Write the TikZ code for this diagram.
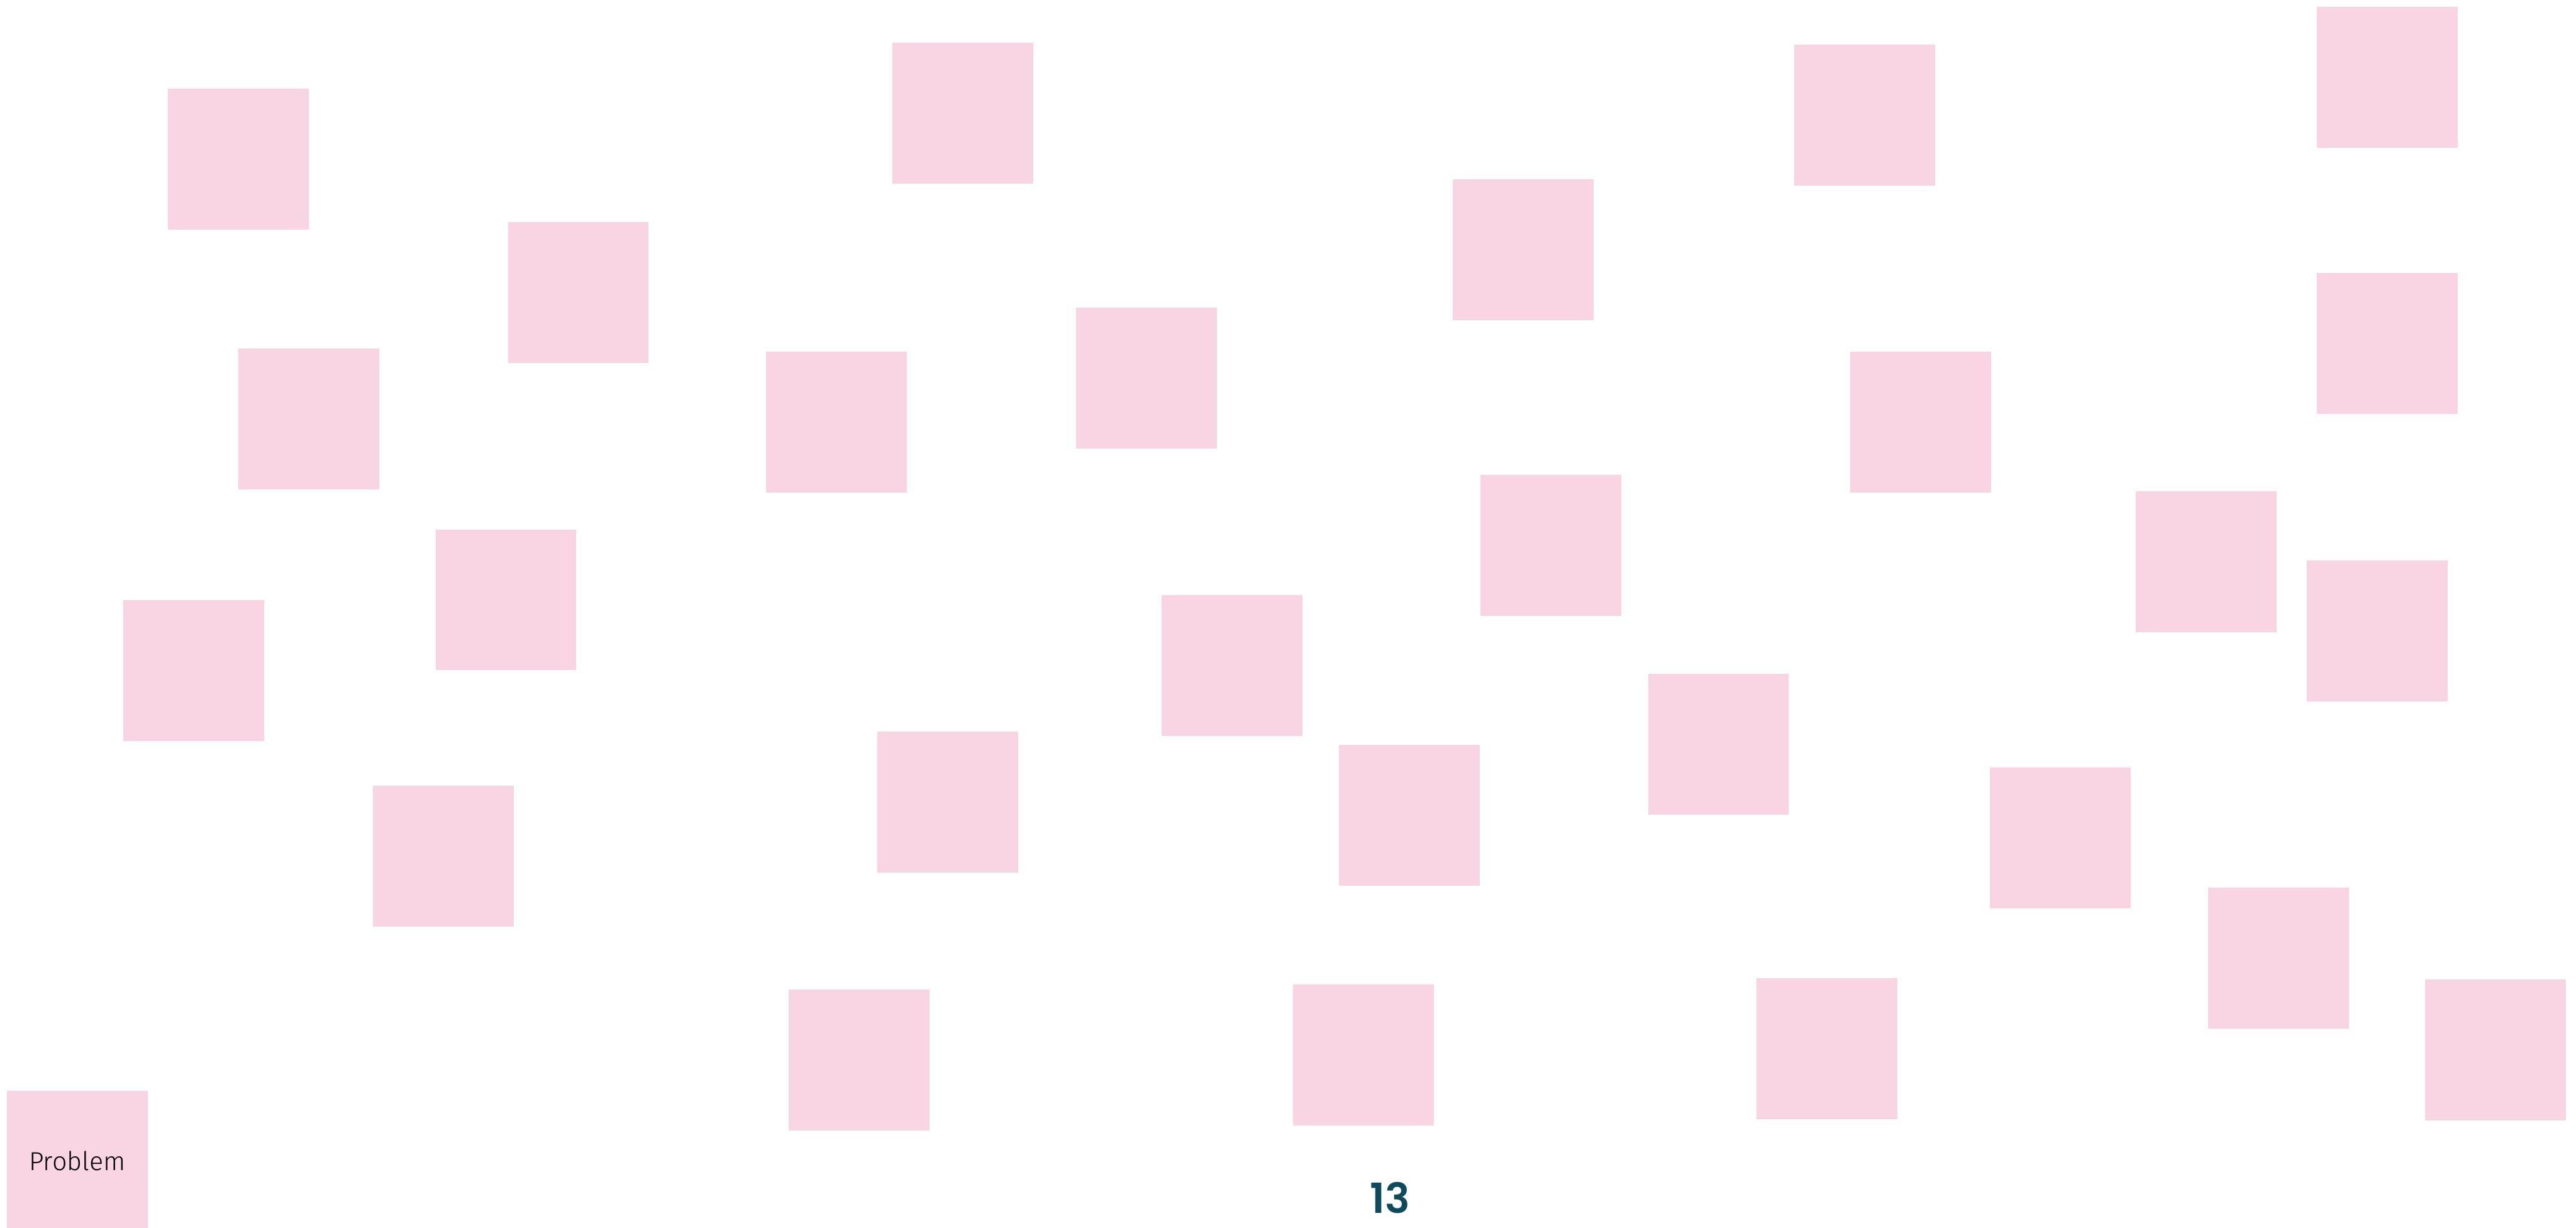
\documentclass[tikz,border=0pt]{standalone}
\usepackage{fontspec}
\usepackage{tikz}
\newfontfamily\notefont{Fira Sans Light}
\newfontfamily\pagefont{Poppins SemiBold}
\definecolor{notepink}{HTML}{F9D4E3}
\definecolor{pageteal}{HTML}{0E4A5C}
\tikzset{
  sticky/.style={rectangle, fill=notepink, minimum size=1.714cm, inner sep=0pt,
                 align=center, font=\notefont\small},
  pagenum/.style={text=pageteal, font=\pagefont\Large, inner sep=0pt},
}

\begin{document}
\begin{tikzpicture}[x=0.02cm, y=-0.02cm]
    \clip (0,0) rectangle (1568,747);
    \useasboundingbox (0,0) rectangle (1568,747);
    % top band
    \node[sticky] (note1) at (145,97) {};
    \node[sticky] (note2) at (586,69) {};
    \node[sticky] (note3) at (1135,70) {};
    \node[sticky] (note4) at (1453,47) {};
    \node[sticky] (note5) at (352,178) {};
    \node[sticky] (note6) at (927,152) {};
    \node[sticky] (note7) at (188,255) {};
    \node[sticky] (note8) at (509,257) {};
    \node[sticky] (note9) at (698,230) {};
    \node[sticky] (note10) at (1169,257) {};
    \node[sticky] (note11) at (1453,209) {};
    % middle band
    \node[sticky] (note12) at (944,332) {};
    \node[sticky] (note13) at (1343,342) {};
    \node[sticky] (note14) at (1447,384) {};
    \node[sticky] (note15) at (308,365) {};
    \node[sticky] (note16) at (118,408) {};
    \node[sticky] (note17) at (750,405) {};
    \node[sticky] (note18) at (1046,453) {};
    \node[sticky] (note19) at (577,488) {};
    \node[sticky] (note20) at (858,496) {};
    \node[sticky] (note21) at (1254,510) {};
    \node[sticky] (note22) at (270,521) {};
    % bottom band
    \node[sticky] (note23) at (1387,583) {};
    \node[sticky] (note24) at (1519,639) {};
    \node[sticky] (note25) at (523,645) {};
    \node[sticky] (note26) at (830,642) {};
    \node[sticky] (note27) at (1112,638) {};
    \node[sticky] (problem) at (47,706.5) {Problem};
    \node[pagenum] (page) at (846,729) {13};
  \end{tikzpicture}
\end{document}
